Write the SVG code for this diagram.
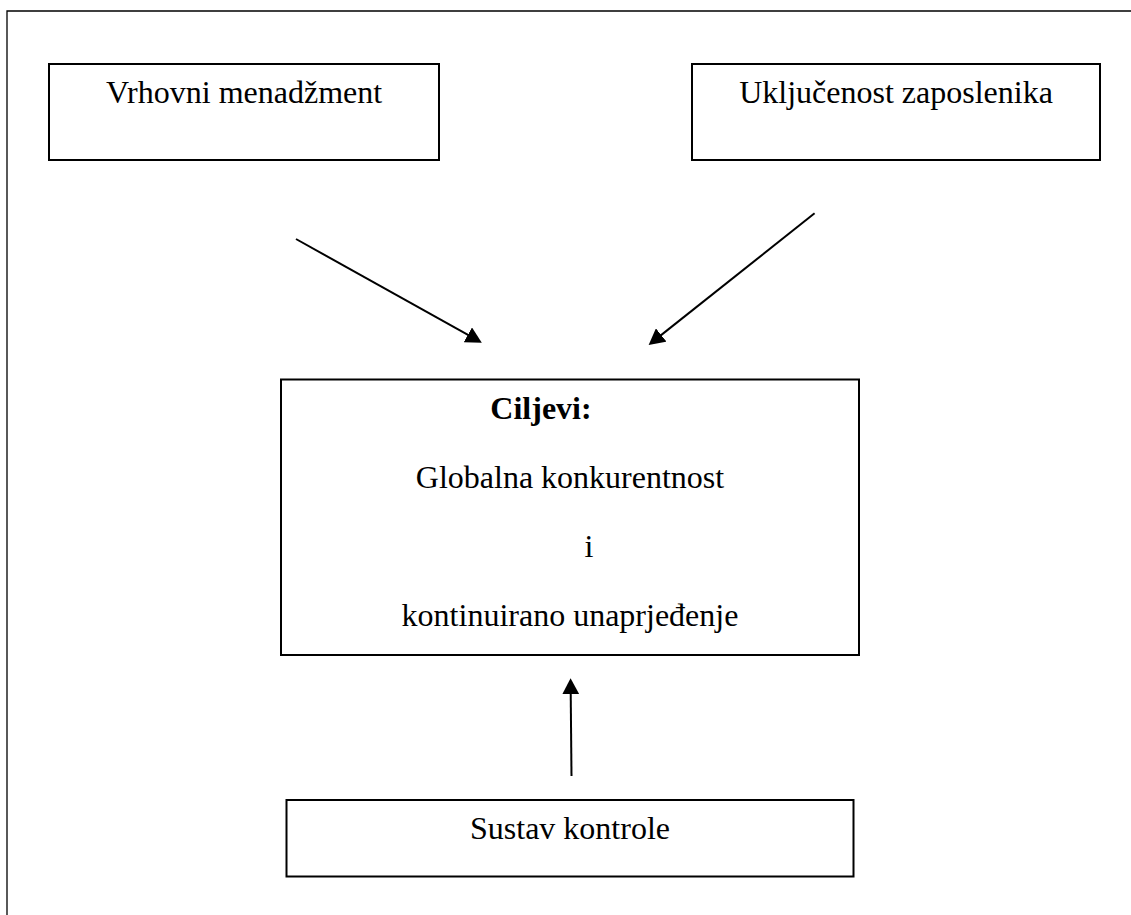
<svg xmlns="http://www.w3.org/2000/svg" width="1131" height="915" viewBox="0 0 1131 915">
<defs>
<style>
.frame{fill:none;stroke:#000;stroke-width:1.3}
.box{fill:#fff;stroke:#000;stroke-width:2}
.lbl{font-family:"Liberation Serif","Times New Roman",serif;font-size:32px;fill:#000;text-anchor:middle}
.bold{font-weight:bold}
.conn{fill:none;stroke:#000;stroke-width:2;marker-end:url(#ah)}
</style>
<marker id="ah" markerUnits="userSpaceOnUse" markerWidth="17" markerHeight="17" refX="13" refY="8.5" orient="auto">
<path d="M0,0 L16,8.5 L0,17 z" fill="#000"/>
</marker>
</defs>
<rect x="0" y="0" width="1131" height="915" fill="#fff"/>
<path class="frame" d="M7,930 L7,11 L1140,11"/>
<g id="node-vrhovni">
<rect class="box" x="49" y="64" width="390" height="96"/>
<text class="lbl" x="244" y="103">Vrhovni menadžment</text>
</g>
<g id="node-ukljucenost">
<rect class="box" x="692" y="64" width="408" height="96"/>
<text class="lbl" x="896" y="103">Uključenost zaposlenika</text>
</g>
<g id="node-ciljevi">
<rect class="box" x="281" y="379.5" width="578" height="275.5"/>
<text class="lbl bold" x="541" y="419">Ciljevi:</text>
<text class="lbl" x="570" y="488">Globalna konkurentnost</text>
<text class="lbl" x="589" y="557">i</text>
<text class="lbl" x="570" y="626">kontinuirano unaprjeđenje</text>
</g>
<g id="node-sustav">
<rect class="box" x="286.5" y="800" width="567" height="76.5"/>
<text class="lbl" x="570" y="839">Sustav kontrole</text>
</g>
<g id="connectors">
<path class="conn" d="M296,239 L479.2,341.2"/>
<path class="conn" d="M814.6,213.3 L651,343.1"/>
<path class="conn" d="M571.5,776 L570.6,681.3"/>
</g>
</svg>
